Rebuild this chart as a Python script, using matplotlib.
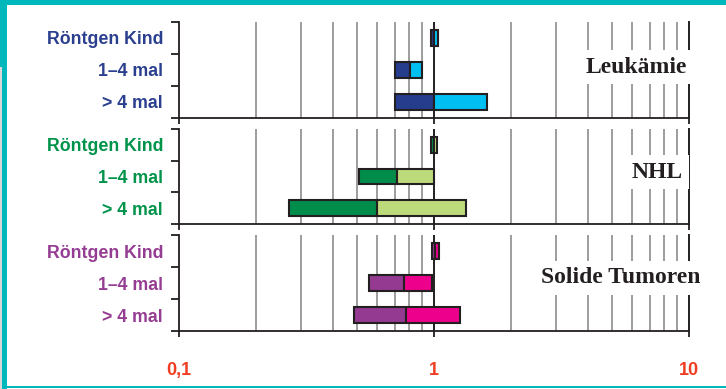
import matplotlib
matplotlib.use("Agg")
import matplotlib.pyplot as plt
from matplotlib.ticker import LogLocator, NullFormatter, FixedLocator
from matplotlib.patches import Rectangle

# ---- data ----
categories = ["Röntgen Kind", "1–4 mal", "> 4 mal"]
panel_names = ["Leukämie", "NHL", "Solide Tumoren"]

leuk_low = [0.97, 0.70, 0.70]
leuk_est = [1.00, 0.805, 1.00]
leuk_high = [1.035, 0.90, 1.61]

nhl_low = [0.975, 0.51, 0.27]
nhl_est = [1.00, 0.715, 0.60]
nhl_high = [1.025, 1.00, 1.34]

sol_low = [0.98, 0.555, 0.485]
sol_est = [1.01, 0.76, 0.78]
sol_high = [1.045, 0.98, 1.27]

x_ticks = [0.1, 1, 10]
x_ticklabels = ["0,1", "1", "10"]

# ---- style ----
dark_cols = ["#263c8d", "#008c4a", "#943b91"]
light_cols = ["#00bff2", "#bddb7b", "#ec008c"]
label_cols = ["#2b3f8f", "#00934a", "#953d93"]
tick_red = "#ef3e23"
teal = "#00b7bc"
grid_col = "#8c8c8c"
edge = "#231f20"

W, H = 726, 389
fig = plt.figure(figsize=(W / 100, H / 100), dpi=100)
fig.patch.set_facecolor("white")

# teal frame decorations
fig.add_artist(Rectangle((0, 1 - 5 / H), 1, 5 / H, transform=fig.transFigure,
                         color=teal, lw=0, zorder=0))
fig.add_artist(Rectangle((0, 1 - 67 / H), 7 / W, 67 / H, transform=fig.transFigure,
                         color=teal, lw=0, zorder=0))
fig.add_artist(Rectangle((0, 0), 2 / W, 1 - 67 / H, transform=fig.transFigure,
                         color="#d8d8d8", lw=0, zorder=0))
fig.add_artist(Rectangle((2 / W, 0), 5 / W, 1 - 67 / H, transform=fig.transFigure,
                         color=teal, lw=0, zorder=0))
fig.add_artist(Rectangle((2 / W, 1 / H), 1, 2.5 / H, transform=fig.transFigure,
                         color=teal, lw=0, zorder=0))

x0, x1 = 179, 689
panel_px = [(22, 118), (129, 224), (235, 331)]
lows = [leuk_low, nhl_low, sol_low]
ests = [leuk_est, nhl_est, sol_est]
highs = [leuk_high, nhl_high, sol_high]
name_pos = [(0.996, 1.41), (0.988, 1.36), (1.0235, 1.34)]

rows = [0.5, 1.5, 2.5]

for i, (top, bot) in enumerate(panel_px):
    ax = fig.add_axes([x0 / W, 1 - bot / H, (x1 - x0) / W, (bot - top) / H])
    ax.set_xscale("log")
    ax.set_xlim(0.1, 10)
    ax.set_ylim(3, 0)
    for s in ["top", "right"]:
        ax.spines[s].set_visible(False)
    for s in ["left", "bottom"]:
        ax.spines[s].set_linewidth(1.3)
        ax.spines[s].set_color(edge)
        ax.spines[s].set_zorder(4)

    # x ticks
    ax.xaxis.set_major_locator(FixedLocator(x_ticks))
    ax.xaxis.set_minor_locator(LogLocator(base=10, subs=[2, 3, 4, 5, 6, 7, 8, 9]))
    ax.xaxis.set_minor_formatter(NullFormatter())
    ax.tick_params(axis="x", which="major", direction="out", length=4, width=1.3,
                   color=edge)
    ax.tick_params(axis="x", which="minor", length=0)
    if i == 2:
        ax.set_xticklabels(x_ticklabels)
        ax.tick_params(axis="x", which="major", pad=18, labelsize=13,
                       labelcolor=tick_red)
        for t in ax.get_xticklabels():
            t.set_fontweight("bold")
            t.set_fontfamily("Liberation Sans")
    else:
        ax.set_xticklabels([])

    ax.grid(True, which="minor", axis="x", color=grid_col, lw=1.2, zorder=1)
    ax.grid(False, which="major")
    ax.axvline(1, color=edge, lw=1.4, zorder=2)
    ax.axvline(10, color=edge, lw=1.4, zorder=2, clip_on=False)

    # y ticks
    ax.set_yticks([0, 1, 2, 3])
    ax.set_yticklabels([])
    ax.tick_params(axis="y", which="major", direction="out", length=6, width=1.3,
                   color=edge)
    ax.set_yticks(rows, minor=True)
    ax.set_yticklabels(categories, minor=True)
    ax.tick_params(axis="y", which="minor", length=0, pad=11.5, labelsize=12.8,
                   labelcolor=label_cols[i])
    for t in ax.get_yticklabels(minor=True):
        t.set_fontweight("bold")
        t.set_fontfamily("Liberation Sans")

    lo, es, hi = lows[i], ests[i], highs[i]
    ax.barh(rows, [e - l for e, l in zip(es, lo)], left=lo, height=0.5,
            color=dark_cols[i], edgecolor=edge, linewidth=1.5, zorder=5)
    ax.barh(rows, [h - e for h, e in zip(hi, es)], left=es, height=0.5,
            color=light_cols[i], edgecolor=edge, linewidth=1.5, zorder=5)

    nx, ny = name_pos[i]
    ax.text(nx, ny, panel_names[i], transform=ax.get_yaxis_transform(),
            ha="right", va="center", fontsize=17, fontweight="bold",
            family="Liberation Serif", color="#231f20", zorder=6, clip_on=False,
            bbox=dict(boxstyle="square,pad=0.28", fc="white", ec="none"))

fig.savefig("out.png", dpi=100)
